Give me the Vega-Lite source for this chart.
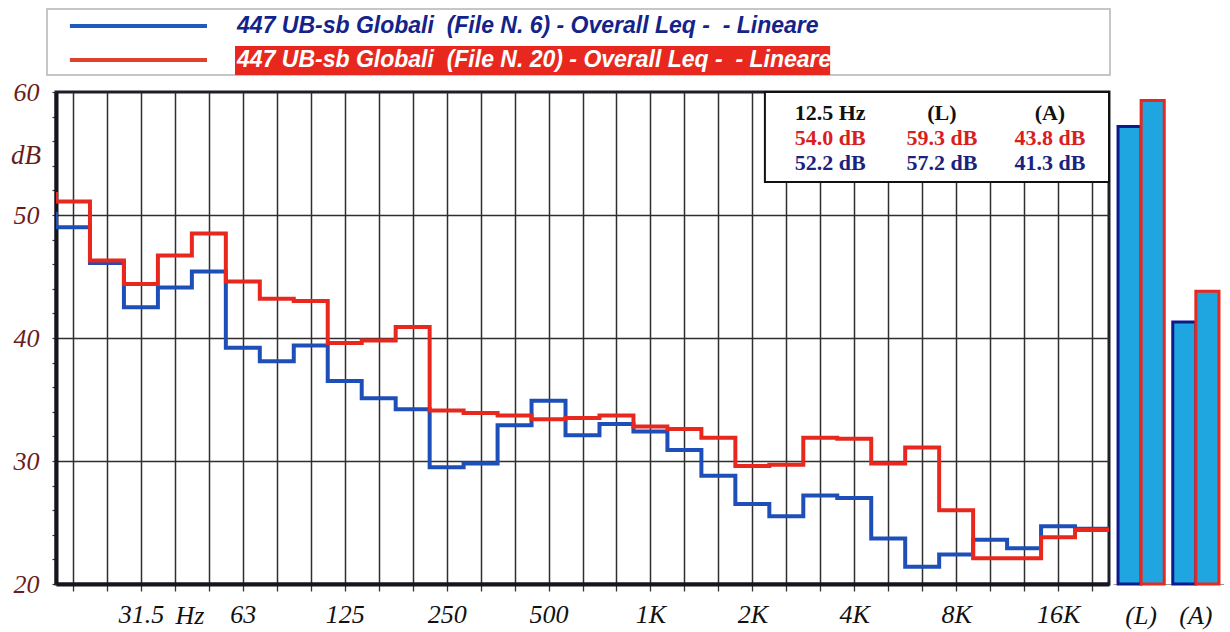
{
  "$schema": "https://vega.github.io/schema/vega-lite/v6.json",
  "background": "white",
  "padding": {"left": 9, "top": 6, "right": 0, "bottom": 0},
  "spacing": 0,
  "config": {"font": "Liberation Serif"},
  "datasets": {
    "spectrum": [
      {"band": -1, "freq": "16", "series": "File N. 6", "dB": 50.1},
      {"band": 0, "freq": "20", "series": "File N. 6", "dB": 49.0},
      {"band": 1, "freq": "25", "series": "File N. 6", "dB": 46.1},
      {"band": 2, "freq": "31.5", "series": "File N. 6", "dB": 42.5},
      {"band": 3, "freq": "40", "series": "File N. 6", "dB": 44.1},
      {"band": 4, "freq": "50", "series": "File N. 6", "dB": 45.4},
      {"band": 5, "freq": "63", "series": "File N. 6", "dB": 39.2},
      {"band": 6, "freq": "80", "series": "File N. 6", "dB": 38.1},
      {"band": 7, "freq": "100", "series": "File N. 6", "dB": 39.4},
      {"band": 8, "freq": "125", "series": "File N. 6", "dB": 36.5},
      {"band": 9, "freq": "160", "series": "File N. 6", "dB": 35.1},
      {"band": 10, "freq": "200", "series": "File N. 6", "dB": 34.2},
      {"band": 11, "freq": "250", "series": "File N. 6", "dB": 29.5},
      {"band": 12, "freq": "315", "series": "File N. 6", "dB": 29.8},
      {"band": 13, "freq": "400", "series": "File N. 6", "dB": 32.9},
      {"band": 14, "freq": "500", "series": "File N. 6", "dB": 34.9},
      {"band": 15, "freq": "630", "series": "File N. 6", "dB": 32.1},
      {"band": 16, "freq": "800", "series": "File N. 6", "dB": 33.0},
      {"band": 17, "freq": "1K", "series": "File N. 6", "dB": 32.4},
      {"band": 18, "freq": "1.25K", "series": "File N. 6", "dB": 30.9},
      {"band": 19, "freq": "1.6K", "series": "File N. 6", "dB": 28.8},
      {"band": 20, "freq": "2K", "series": "File N. 6", "dB": 26.5},
      {"band": 21, "freq": "2.5K", "series": "File N. 6", "dB": 25.5},
      {"band": 22, "freq": "3.15K", "series": "File N. 6", "dB": 27.2},
      {"band": 23, "freq": "4K", "series": "File N. 6", "dB": 27.0},
      {"band": 24, "freq": "5K", "series": "File N. 6", "dB": 23.7},
      {"band": 25, "freq": "6.3K", "series": "File N. 6", "dB": 21.4},
      {"band": 26, "freq": "8K", "series": "File N. 6", "dB": 22.4},
      {"band": 27, "freq": "10K", "series": "File N. 6", "dB": 23.6},
      {"band": 28, "freq": "12.5K", "series": "File N. 6", "dB": 22.9},
      {"band": 29, "freq": "16K", "series": "File N. 6", "dB": 24.7},
      {"band": 30, "freq": "20K", "series": "File N. 6", "dB": 24.5},
      {"band": 31, "freq": "20K end", "series": "File N. 6", "dB": 24.5},
      {"band": -1, "freq": "16", "series": "File N. 20", "dB": 51.7},
      {"band": 0, "freq": "20", "series": "File N. 20", "dB": 51.1},
      {"band": 1, "freq": "25", "series": "File N. 20", "dB": 46.3},
      {"band": 2, "freq": "31.5", "series": "File N. 20", "dB": 44.4},
      {"band": 3, "freq": "40", "series": "File N. 20", "dB": 46.7},
      {"band": 4, "freq": "50", "series": "File N. 20", "dB": 48.5},
      {"band": 5, "freq": "63", "series": "File N. 20", "dB": 44.6},
      {"band": 6, "freq": "80", "series": "File N. 20", "dB": 43.2},
      {"band": 7, "freq": "100", "series": "File N. 20", "dB": 43.0},
      {"band": 8, "freq": "125", "series": "File N. 20", "dB": 39.6},
      {"band": 9, "freq": "160", "series": "File N. 20", "dB": 39.8},
      {"band": 10, "freq": "200", "series": "File N. 20", "dB": 40.9},
      {"band": 11, "freq": "250", "series": "File N. 20", "dB": 34.1},
      {"band": 12, "freq": "315", "series": "File N. 20", "dB": 33.9},
      {"band": 13, "freq": "400", "series": "File N. 20", "dB": 33.7},
      {"band": 14, "freq": "500", "series": "File N. 20", "dB": 33.4},
      {"band": 15, "freq": "630", "series": "File N. 20", "dB": 33.5},
      {"band": 16, "freq": "800", "series": "File N. 20", "dB": 33.7},
      {"band": 17, "freq": "1K", "series": "File N. 20", "dB": 32.8},
      {"band": 18, "freq": "1.25K", "series": "File N. 20", "dB": 32.6},
      {"band": 19, "freq": "1.6K", "series": "File N. 20", "dB": 31.9},
      {"band": 20, "freq": "2K", "series": "File N. 20", "dB": 29.6},
      {"band": 21, "freq": "2.5K", "series": "File N. 20", "dB": 29.7},
      {"band": 22, "freq": "3.15K", "series": "File N. 20", "dB": 31.9},
      {"band": 23, "freq": "4K", "series": "File N. 20", "dB": 31.8},
      {"band": 24, "freq": "5K", "series": "File N. 20", "dB": 29.8},
      {"band": 25, "freq": "6.3K", "series": "File N. 20", "dB": 31.1},
      {"band": 26, "freq": "8K", "series": "File N. 20", "dB": 26.0},
      {"band": 27, "freq": "10K", "series": "File N. 20", "dB": 22.1},
      {"band": 28, "freq": "12.5K", "series": "File N. 20", "dB": 22.1},
      {"band": 29, "freq": "16K", "series": "File N. 20", "dB": 23.8},
      {"band": 30, "freq": "20K", "series": "File N. 20", "dB": 24.4},
      {"band": 31, "freq": "20K end", "series": "File N. 20", "dB": 24.4}
    ],
    "totals": [
      {"metric": "(L)", "series": "File N. 6", "dB": 57.2},
      {"metric": "(L)", "series": "File N. 20", "dB": 59.3},
      {"metric": "(A)", "series": "File N. 6", "dB": 41.3},
      {"metric": "(A)", "series": "File N. 20", "dB": 43.8}
    ]
  },
  "hconcat": [
    {
      "width": 1053,
      "height": 492,
      "view": {"stroke": "#1c1f2a", "strokeWidth": 3},
      "data": {"name": "spectrum"},
      "layer": [
        {
          "transform": [{"filter": "datum.series === 'File N. 6'"}],
          "mark": {"type": "line", "interpolate": "step", "clip": true, "strokeWidth": 4, "color": "#1E4FB8"},
          "encoding": {
            "x": {
              "field": "band", "type": "quantitative", "title": null,
              "scale": {"domain": [-0.5, 30.5], "nice": false, "zero": false},
              "axis": {
                "values": [0,1,2,3,4,5,6,7,8,9,10,11,12,13,14,15,16,17,18,19,20,21,22,23,24,25,26,27,28,29,30],
                "tickCount": 60,
                "title": null,
                "grid": true, "gridColor": "#2e2e2e", "gridWidth": 1.5,
                "domain": true, "domainColor": "#15151d", "domainWidth": 4,
                "ticks": true, "tickSize": 7, "tickColor": "#333333", "tickWidth": 1.3,
                "labelExpr": "['', '', '31.5', '', '', '63', '', '', '125', '', '', '250', '', '', '500', '', '', '1K', '', '', '2K', '', '', '4K', '', '', '8K', '', '', '16K', ''][datum.value]",
                "labelFont": "Liberation Serif", "labelFontStyle": "italic", "labelFontSize": 26, "labelColor": "#111111",
                "labelPadding": 10, "labelFlush": false, "labelOverlap": false
              }
            },
            "y": {
              "field": "dB", "type": "quantitative", "title": null,
              "scale": {"domain": [20, 60], "nice": false, "zero": false},
              "axis": {
                "values": [20,22,24,26,28,30,32,34,36,38,40,42,44,46,48,50,52,54,56,58,60],
                "tickCount": 40,
                "title": null,
                "grid": true, "gridColor": "#2e2e2e", "gridWidth": 1.5,
                "gridOpacity": {"condition": {"test": "datum.value % 10 === 0 && datum.value > 20 && datum.value < 60", "value": 1}, "value": 0},
                "domain": true, "domainColor": "#15151d", "domainWidth": 4,
                "tickSize": 4, "tickColor": "#333333", "tickWidth": 1.2,
                "labelExpr": "datum.value % 10 === 0 ? datum.label : ''",
                "labelFont": "Liberation Serif", "labelFontStyle": "italic", "labelFontSize": 26, "labelColor": "#6B1C1C",
                "labelPadding": 13, "labelOverlap": false
              }
            }
          }
        },
        {
          "transform": [{"filter": "datum.series === 'File N. 20'"}],
          "mark": {"type": "line", "interpolate": "step", "clip": true, "strokeWidth": 4, "color": "#E8281E"},
          "encoding": {
            "x": {"field": "band", "type": "quantitative", "title": null},
            "y": {"field": "dB", "type": "quantitative", "title": null}
          }
        },
        {
          "data": {"values": [{}]},
          "mark": {"type": "rect", "fill": "white", "stroke": "#111111", "strokeWidth": 2},
          "encoding": {
            "x": {"datum": 20.37, "type": "quantitative", "title": null},
            "x2": {"datum": 30.5},
            "y": {"datum": 60, "type": "quantitative", "title": null},
            "y2": {"datum": 52.68}
          }
        },
        {
          "data": {"values": [{}]},
          "mark": {"type": "text", "text": "12.5 Hz", "font": "Liberation Serif", "fontWeight": "bold", "fontSize": 22, "color": "#111111", "baseline": "middle", "align": "center"},
          "encoding": {"x": {"datum": 22.29, "type": "quantitative", "title": null}, "y": {"datum": 58.29, "type": "quantitative", "title": null}}
        },
        {
          "data": {"values": [{}]},
          "mark": {"type": "text", "text": "(L)", "font": "Liberation Serif", "fontWeight": "bold", "fontSize": 22, "color": "#111111", "baseline": "middle", "align": "center"},
          "encoding": {"x": {"datum": 25.58, "type": "quantitative", "title": null}, "y": {"datum": 58.29, "type": "quantitative", "title": null}}
        },
        {
          "data": {"values": [{}]},
          "mark": {"type": "text", "text": "(A)", "font": "Liberation Serif", "fontWeight": "bold", "fontSize": 22, "color": "#111111", "baseline": "middle", "align": "center"},
          "encoding": {"x": {"datum": 28.76, "type": "quantitative", "title": null}, "y": {"datum": 58.29, "type": "quantitative", "title": null}}
        },
        {
          "data": {"values": [{}]},
          "mark": {"type": "text", "text": "54.0 dB", "font": "Liberation Serif", "fontWeight": "bold", "fontSize": 22, "color": "#D81E1E", "baseline": "middle", "align": "center"},
          "encoding": {"x": {"datum": 22.29, "type": "quantitative", "title": null}, "y": {"datum": 56.26, "type": "quantitative", "title": null}}
        },
        {
          "data": {"values": [{}]},
          "mark": {"type": "text", "text": "59.3 dB", "font": "Liberation Serif", "fontWeight": "bold", "fontSize": 22, "color": "#D81E1E", "baseline": "middle", "align": "center"},
          "encoding": {"x": {"datum": 25.58, "type": "quantitative", "title": null}, "y": {"datum": 56.26, "type": "quantitative", "title": null}}
        },
        {
          "data": {"values": [{}]},
          "mark": {"type": "text", "text": "43.8 dB", "font": "Liberation Serif", "fontWeight": "bold", "fontSize": 22, "color": "#D81E1E", "baseline": "middle", "align": "center"},
          "encoding": {"x": {"datum": 28.76, "type": "quantitative", "title": null}, "y": {"datum": 56.26, "type": "quantitative", "title": null}}
        },
        {
          "data": {"values": [{}]},
          "mark": {"type": "text", "text": "52.2 dB", "font": "Liberation Serif", "fontWeight": "bold", "fontSize": 22, "color": "#1A237E", "baseline": "middle", "align": "center"},
          "encoding": {"x": {"datum": 22.29, "type": "quantitative", "title": null}, "y": {"datum": 54.23, "type": "quantitative", "title": null}}
        },
        {
          "data": {"values": [{}]},
          "mark": {"type": "text", "text": "57.2 dB", "font": "Liberation Serif", "fontWeight": "bold", "fontSize": 22, "color": "#1A237E", "baseline": "middle", "align": "center"},
          "encoding": {"x": {"datum": 25.58, "type": "quantitative", "title": null}, "y": {"datum": 54.23, "type": "quantitative", "title": null}}
        },
        {
          "data": {"values": [{}]},
          "mark": {"type": "text", "text": "41.3 dB", "font": "Liberation Serif", "fontWeight": "bold", "fontSize": 22, "color": "#1A237E", "baseline": "middle", "align": "center"},
          "encoding": {"x": {"datum": 28.76, "type": "quantitative", "title": null}, "y": {"datum": 54.23, "type": "quantitative", "title": null}}
        },
        {
          "data": {"values": [{}]},
          "mark": {"type": "rect", "fill": "white", "stroke": "#b4b4b4", "strokeWidth": 1.5},
          "encoding": {
            "x": {"datum": -0.765, "type": "quantitative", "title": null},
            "x2": {"datum": 30.53},
            "y": {"datum": 66.75, "type": "quantitative", "title": null},
            "y2": {"datum": 61.38}
          }
        },
        {
          "data": {"values": [{}]},
          "mark": {"type": "rule", "stroke": "#1E5AC0", "strokeWidth": 4},
          "encoding": {
            "x": {"datum": -0.09, "type": "quantitative", "title": null},
            "x2": {"datum": 3.945},
            "y": {"datum": 65.37, "type": "quantitative", "title": null}
          }
        },
        {
          "data": {"values": [{}]},
          "mark": {"type": "rule", "stroke": "#E0402E", "strokeWidth": 4},
          "encoding": {
            "x": {"datum": -0.09, "type": "quantitative", "title": null},
            "x2": {"datum": 3.945},
            "y": {"datum": 62.6, "type": "quantitative", "title": null}
          }
        },
        {
          "data": {"values": [{}]},
          "mark": {"type": "rect", "fill": "#E8281E"},
          "encoding": {
            "x": {"datum": 4.77, "type": "quantitative", "title": null},
            "x2": {"datum": 22.29},
            "y": {"datum": 63.74, "type": "quantitative", "title": null},
            "y2": {"datum": 61.38}
          }
        },
        {
          "data": {"values": [{}]},
          "mark": {"type": "text", "text": "447 UB-sb Globali\u00a0\u00a0(File N. 6) - Overall Leq -\u00a0\u00a0- Lineare", "font": "Liberation Sans", "fontWeight": "bold", "fontStyle": "italic", "fontSize": 23, "color": "#14238A", "baseline": "middle", "align": "left"},
          "encoding": {"x": {"datum": 4.83, "type": "quantitative", "title": null}, "y": {"datum": 65.37, "type": "quantitative", "title": null}}
        },
        {
          "data": {"values": [{}]},
          "mark": {"type": "text", "text": "447 UB-sb Globali\u00a0\u00a0(File N. 20) - Overall Leq -\u00a0\u00a0- Lineare", "font": "Liberation Sans", "fontWeight": "bold", "fontStyle": "italic", "fontSize": 23, "color": "#ffffff", "baseline": "middle", "align": "left"},
          "encoding": {"x": {"datum": 4.83, "type": "quantitative", "title": null}, "y": {"datum": 62.6, "type": "quantitative", "title": null}}
        },
        {
          "data": {"values": [{}]},
          "mark": {"type": "text", "text": "dB", "font": "Liberation Serif", "fontStyle": "italic", "fontSize": 27, "color": "#6B1C1C", "baseline": "middle", "align": "center"},
          "encoding": {"x": {"datum": -1.38, "type": "quantitative", "title": null}, "y": {"datum": 54.8, "type": "quantitative", "title": null}}
        },
        {
          "data": {"values": [{}]},
          "mark": {"type": "text", "text": "Hz", "font": "Liberation Serif", "fontStyle": "italic", "fontSize": 26, "color": "#111111", "baseline": "middle", "align": "center"},
          "encoding": {"x": {"datum": 3.445, "type": "quantitative", "title": null}, "y": {"datum": 17.4, "type": "quantitative", "title": null}}
        }
      ]
    },
    {
      "width": 111,
      "height": 492,
      "view": {"stroke": null},
      "data": {"name": "totals"},
      "mark": {"type": "bar", "fill": "#1FA5E0", "strokeWidth": 3},
      "encoding": {
        "x": {
          "field": "metric", "type": "nominal", "sort": ["(L)", "(A)"],
          "scale": {"paddingInner": 0.156, "paddingOuter": 0.092},
          "axis": {"title": null, "labelAngle": 0, "ticks": false, "domainColor": "#9a9a9a", "domainWidth": 1, "labelFont": "Liberation Serif", "labelFontStyle": "italic", "labelFontSize": 26, "labelColor": "#111111", "labelPadding": 18}
        },
        "xOffset": {"field": "series", "type": "nominal", "sort": ["File N. 6", "File N. 20"], "scale": {"paddingInner": 0, "paddingOuter": 0}},
        "y": {"field": "dB", "type": "quantitative", "scale": {"domain": [20, 60], "nice": false, "zero": false}, "axis": null},
        "y2": {"datum": 20},
        "stroke": {"field": "series", "type": "nominal", "scale": {"domain": ["File N. 6", "File N. 20"], "range": ["#0D1A8C", "#E8281E"]}, "legend": null}
      }
    }
  ]
}
